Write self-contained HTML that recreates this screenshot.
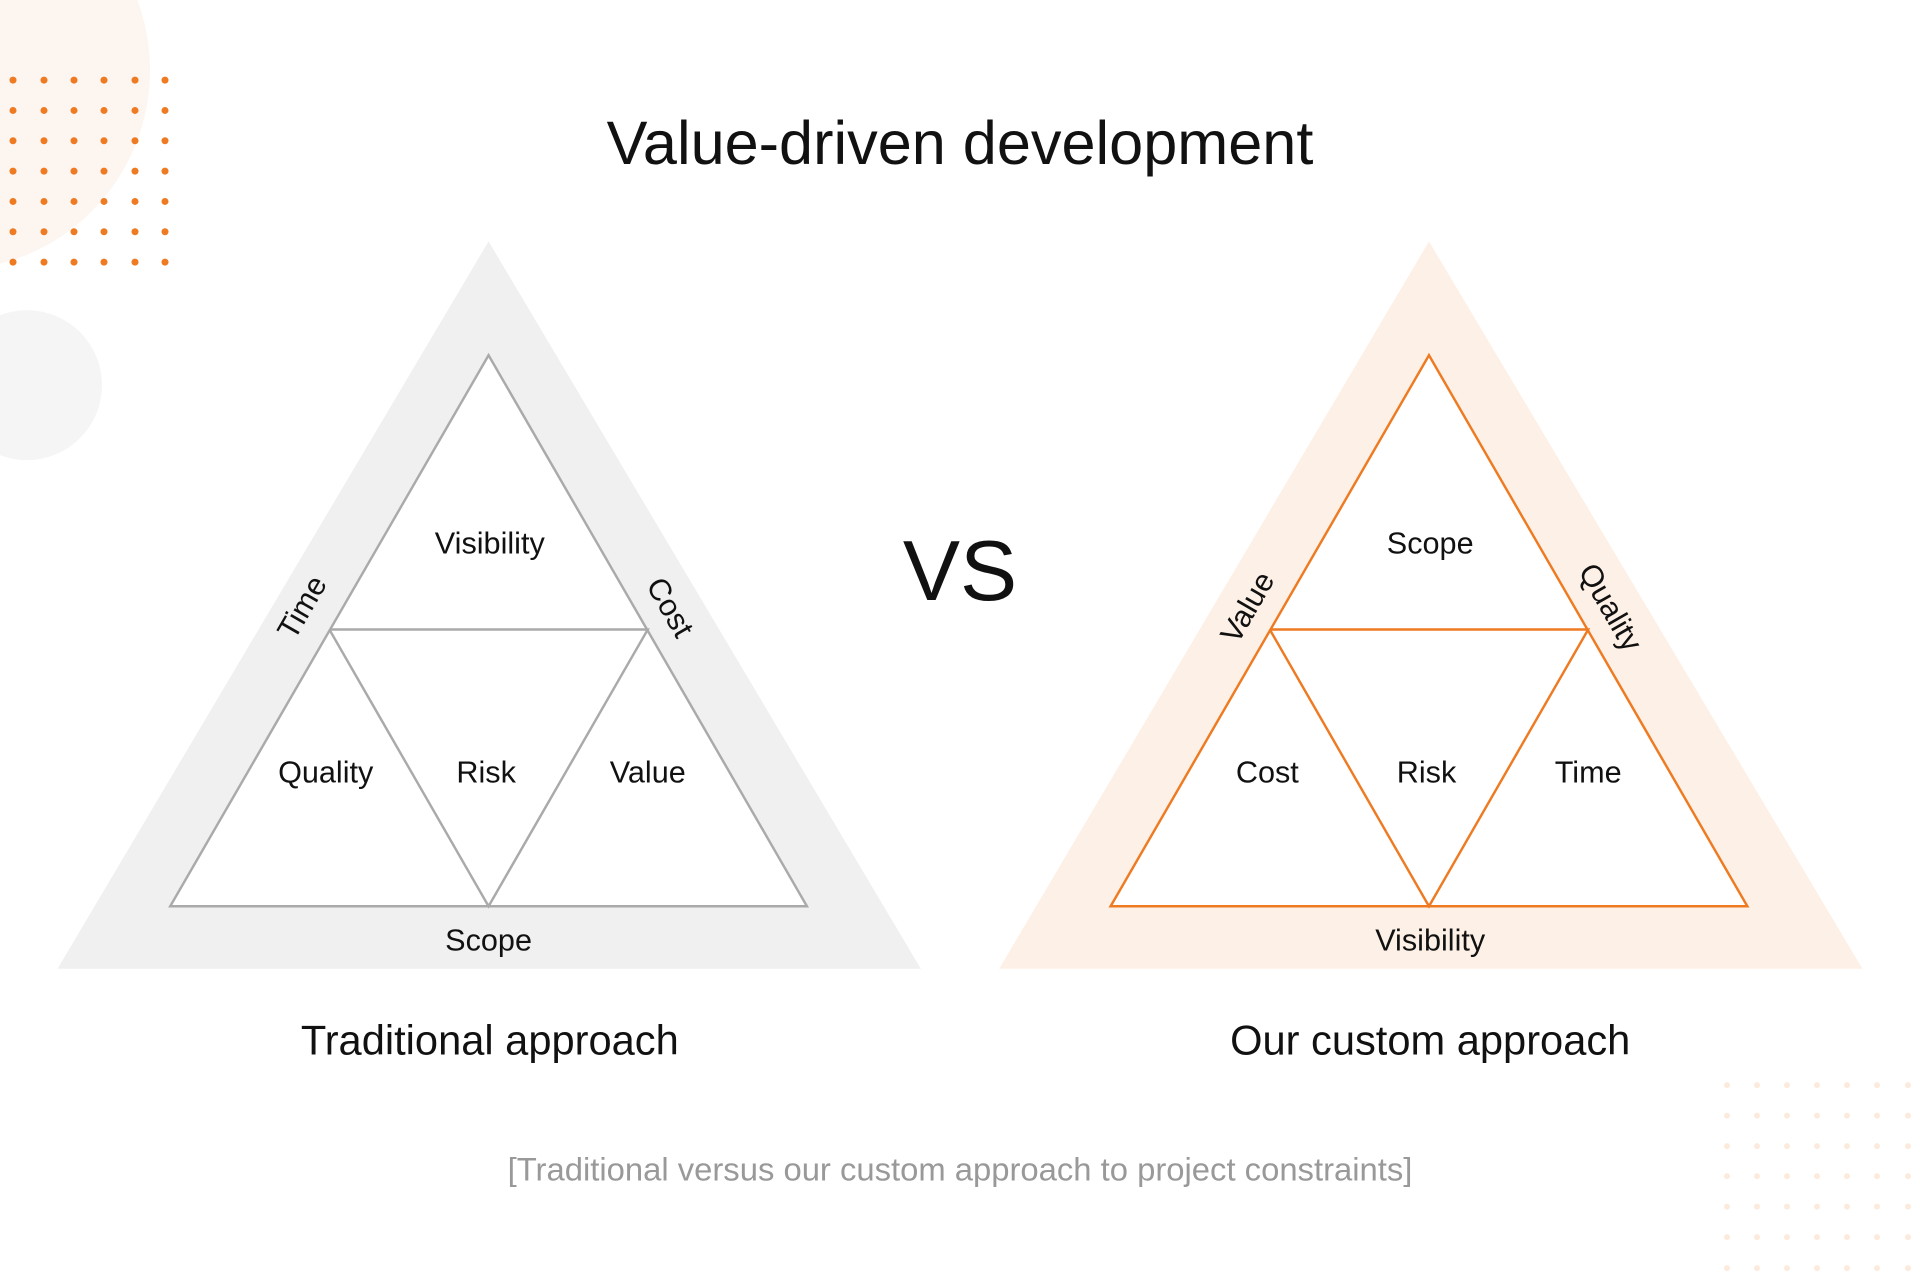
<!DOCTYPE html>
<html><head><meta charset="utf-8"><style>
html,body{margin:0;padding:0;background:#fff}
svg{display:block}
text{font-family:"Liberation Sans",sans-serif;fill:#111}
</style></head><body>
<svg width="1920" height="1286" viewBox="0 0 1568 1050" xmlns="http://www.w3.org/2000/svg">
<g transform="scale(0.81667)">
<circle cx="-50" cy="70" r="200" fill="#fdf5f0"/>
<circle cx="27" cy="385" r="75" fill="#f5f5f5"/>
<g fill="#ee7a22">
<g id="row">
<circle cx="13" cy="80" r="3.5"/><circle cx="44" cy="80" r="3.5"/><circle cx="74" cy="80" r="3.5"/><circle cx="104" cy="80" r="3.5"/><circle cx="135" cy="80" r="3.5"/><circle cx="165" cy="80" r="3.5"/>
</g>
<use href="#row" y="30.3"/><use href="#row" y="60.6"/><use href="#row" y="91"/><use href="#row" y="121.3"/><use href="#row" y="151.6"/><use href="#row" y="182"/>
</g>
<g fill="#fcebdc">
<g id="row2">
<circle cx="1727" cy="1085" r="3"/><circle cx="1757" cy="1085" r="3"/><circle cx="1787" cy="1085" r="3"/><circle cx="1817" cy="1085" r="3"/><circle cx="1847" cy="1085" r="3"/><circle cx="1877" cy="1085" r="3"/><circle cx="1908" cy="1085" r="3"/>
</g>
<use href="#row2" y="30.5"/><use href="#row2" y="61"/><use href="#row2" y="91"/><use href="#row2" y="121.5"/><use href="#row2" y="152"/><use href="#row2" y="183"/>
</g>
</g>

<text x="784" y="134" font-size="50" text-anchor="middle">Value-driven development</text>

<!-- left -->
<polygon points="399,197 752,791 47,791" fill="#f0f0f0"/>
<polygon points="399,290 659,740 139,740" fill="#fff" stroke="#aaa" stroke-width="2"/>
<polyline points="269,514 529,514 399,740 269,514" fill="none" stroke="#aaa" stroke-width="2"/>
<g font-size="25" text-anchor="middle">
<text x="400" y="452">Visibility</text>
<text x="266" y="639">Quality</text>
<text x="397" y="639">Risk</text>
<text x="529" y="639">Value</text>
<text x="399" y="776">Scope</text>
<text transform="translate(254,500) rotate(-60)" x="0" y="0">Time</text>
<text transform="translate(540,500) rotate(60)" x="0" y="0">Cost</text>
</g>
<text x="400" y="861" font-size="34" text-anchor="middle">Traditional approach</text>

<text x="784" y="490" font-size="70" text-anchor="middle">VS</text>

<!-- right -->
<polygon points="1167,197 1521,791 816,791" fill="#fdf0e6"/>
<polygon points="1167,290 1427,740 907,740" fill="#fff" stroke="#ee7a22" stroke-width="2"/>
<polyline points="1037,514 1297,514 1167,740 1037,514" fill="none" stroke="#ee7a22" stroke-width="2"/>
<g font-size="25" text-anchor="middle">
<text x="1168" y="452">Scope</text>
<text x="1035" y="639">Cost</text>
<text x="1165" y="639">Risk</text>
<text x="1297" y="639">Time</text>
<text x="1168" y="776">Visibility</text>
<text transform="translate(1026,500) rotate(-60)" x="0" y="0">Value</text>
<text transform="translate(1308,500) rotate(60)" x="0" y="0">Quality</text>
</g>
<text x="1168" y="861" font-size="34" text-anchor="middle">Our custom approach</text>

<text x="784" y="964" font-size="26.8" text-anchor="middle" style="fill:#999">[Traditional versus our custom approach to project constraints]</text>
</svg>
</body></html>
